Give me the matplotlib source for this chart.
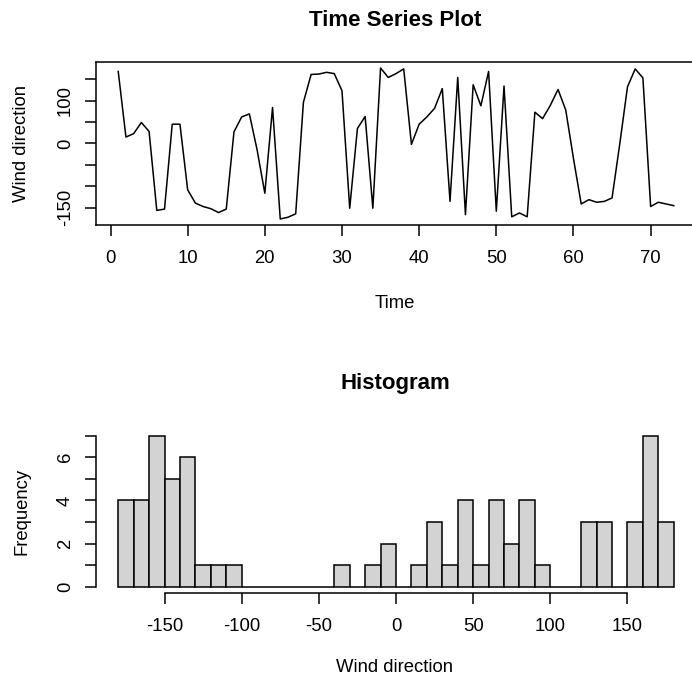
import numpy as np
import matplotlib
matplotlib.use("Agg")
import matplotlib.pyplot as plt

plt.rcParams['font.family'] = ['Liberation Sans', 'DejaVu Sans']

# Hourly wind direction (degrees), one value per time step
time = np.arange(1, 74)
wind_dir = [
    168, 15, 23, 49, 28, -156, -153, 45, 45, -108,
    -139, -147, -152, -161, -153, 27, 62, 69, -15, -116,
    84, -176, -172, -164, 96, 161, 162, 166, 163, 123,
    -151, 35, 63, -151, 176, 154, 163, 174, -2, 45,
    62, 82, 128, -135, 154, -166, 137, 88, 168, -158,
    134, -171, -162, -171, 73, 58, 89, 126, 78, -35,
    -141, -131, -137, -135, -127, -1, 132, 174, 153, -147,
    -137, -141, -145,
]
bin_edges = np.arange(-180, 181, 10)

ts_xticks = [0, 10, 20, 30, 40, 50, 60, 70]
ts_yticks = [-150, -100, -50, 0, 50, 100, 150]
ts_ylabels = ['-150', '', '', '0', '', '100', '']
hist_xticks = [-150, -100, -50, 0, 50, 100, 150]
hist_yticks = [0, 1, 2, 3, 4, 5, 6, 7]
hist_ylabels = ['0', '', '2', '', '4', '', '6', '']

W, H = 692, 680
fig = plt.figure(figsize=(W / 100, H / 100), dpi=100)

FS = 13.3
LW = 1.1
TICKLEN = 8


def frac_box(left, top, right, bottom):
    return [left / W, 1 - bottom / H, (right - left) / W, (bottom - top) / H]


def r_range(lo, hi):
    pad = 0.04 * (hi - lo)
    return lo - pad, hi + pad


def style_ticks(ax):
    ax.tick_params(length=TICKLEN, width=LW, labelsize=FS)
    ax.tick_params(axis='x', pad=10)
    ax.tick_params(axis='y', pad=8)
    for lab in ax.get_yticklabels():
        lab.set_rotation(90)
        lab.set_va('center')


# ---- Time series panel ----
ax1 = fig.add_axes(frac_box(96, 62, 696, 225))
ax1.plot(time, wind_dir, color='black', lw=LW)
ax1.set_xlim(*r_range(time.min(), time.max()))
ax1.set_ylim(*r_range(min(wind_dir), max(wind_dir)))
ax1.set_xticks(ts_xticks)
ax1.set_xticklabels([str(v) for v in ts_xticks])
ax1.set_yticks(ts_yticks)
ax1.set_yticklabels(ts_ylabels)
for s in ax1.spines.values():
    s.set_linewidth(LW)
style_ticks(ax1)

fig.text(395 / W, 1 - 20 / H, 'Time Series Plot', ha='center', va='center',
         fontsize=16, fontweight='bold')
fig.text(395 / W, 1 - 303 / H, 'Time', ha='center', va='center', fontsize=FS)
fig.text(22 / W, 1 - 143.5 / H, 'Wind direction', ha='center', va='center',
         rotation=90, fontsize=FS)

# ---- Histogram panel ----
ax2 = fig.add_axes(frac_box(96, 429.7, 696, 592.7))
counts, _, _ = ax2.hist(wind_dir, bins=bin_edges, color='#D3D3D3',
                        edgecolor='black', linewidth=LW)
ax2.set_xlim(*r_range(bin_edges[0], bin_edges[-1]))
ax2.set_ylim(*r_range(0, counts.max()))
ax2.set_xticks(hist_xticks)
ax2.set_xticklabels([str(v) for v in hist_xticks])
ax2.set_yticks(hist_yticks)
ax2.set_yticklabels(hist_ylabels)
ax2.spines['top'].set_visible(False)
ax2.spines['right'].set_visible(False)
ax2.spines['bottom'].set_bounds(hist_xticks[0], hist_xticks[-1])
ax2.spines['left'].set_bounds(hist_yticks[0], hist_yticks[-1])
for s in ax2.spines.values():
    s.set_linewidth(LW)
style_ticks(ax2)

fig.text(395 / W, 1 - 384 / H, 'Histogram', ha='center', va='center',
         fontsize=16, fontweight='bold')
fig.text(395 / W, 1 - 667 / H, 'Wind direction', ha='center', va='center',
         fontsize=FS)
fig.text(22 / W, 1 - 511 / H, 'Frequency', ha='center', va='center',
         rotation=90, fontsize=FS)

fig.savefig('out.png', dpi=100)
